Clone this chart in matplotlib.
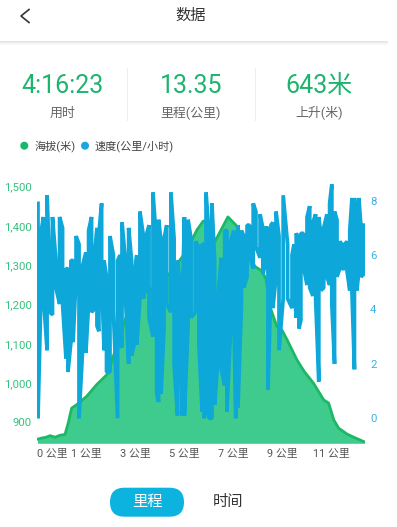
import matplotlib
matplotlib.use('Agg')
import matplotlib.pyplot as plt
from matplotlib.patches import FancyBboxPatch, Circle, Rectangle
from matplotlib.lines import Line2D

plt.rcParams['font.family'] = ['Roboto', 'Noto Sans CJK SC', 'DejaVu Sans']

# ---------------- data ----------------
title = "数据"
stat_values = ["4:16:23", "13.35", "643米"]
stat_labels = ["用时", "里程(公里)", "上升(米)"]
legend_labels = ["海拔(米)", "速度(公里/小时)"]
tabs = ["里程", "时间"]

total_km = 13.35

elev_km = [0.02, 0.20, 0.37, 0.53, 0.73, 0.94, 1.14, 1.27, 1.41, 1.62, 2.02, 2.43,
           2.84, 2.97, 3.09, 3.26, 3.58, 3.87, 4.19, 4.80, 5.41, 5.90, 6.23, 6.51,
           6.76, 6.96, 7.08, 7.24, 7.45, 7.77, 8.10, 8.26, 8.47, 8.67, 8.87, 9.16,
           9.32, 9.48, 9.77, 9.97, 10.18, 10.58, 10.87, 11.26, 11.67, 11.87, 12.08,
           12.28, 12.62, 12.89, 13.15, 13.33]
elev_m = [857, 860, 862, 866, 862, 867, 869, 898, 936, 945, 966, 996,
          1021, 1040, 1066, 1095, 1160, 1205, 1225, 1245, 1280, 1320, 1355, 1390,
          1412, 1415, 1395, 1360, 1385, 1423, 1402, 1385, 1355, 1320, 1297, 1285,
          1265, 1195, 1143, 1135, 1110, 1059, 1030, 999, 957, 949, 906,
          885, 870, 862, 855, 850]

speed_km = [0.04, 0.16, 0.26, 0.41, 0.53, 0.63, 0.77, 0.92, 1.04, 1.18,
            1.26, 1.38, 1.47, 1.59, 1.71, 1.85, 1.99, 2.10, 2.22, 2.32,
            2.44, 2.52, 2.63, 2.73, 2.83, 2.97, 3.11, 3.28, 3.38, 3.46,
            3.58, 3.73, 3.85, 3.95, 4.06, 4.19, 4.33, 4.44, 4.56, 4.72,
            4.87, 4.95, 5.05, 5.17, 5.28, 5.45, 5.58, 5.72, 5.79, 5.92,
            6.00, 6.15, 6.27, 6.45, 6.59, 6.72, 6.80, 6.88, 7.00, 7.12,
            7.23, 7.37, 7.50, 7.64, 7.73, 7.88, 8.01, 8.09, 8.18, 8.32,
            8.42, 8.55, 8.65, 8.80, 8.91, 9.08, 9.19, 9.28, 9.40, 9.52,
            9.60, 9.73, 9.85, 10.02, 10.20, 10.38, 10.46, 10.55, 10.66, 10.74,
            10.84, 10.99, 11.10, 11.23, 11.34, 11.47, 11.56, 11.67, 11.80, 11.91,
            12.00, 12.11, 12.21, 12.32, 12.41, 12.52, 12.62, 12.73, 12.82, 12.92,
            13.02, 13.10, 13.19, 13.30]
speed_hi = [7.9, 6.8, 7.4, 8.2, 5.2, 7.4, 5.8, 7.4, 7.0, 5.5,
            5.5, 5.8, 5.8, 6.7, 6.4, 5.6, 6.1, 6.9, 7.4, 5.8,
            7.0, 6.8, 7.9, 5.8, 5.2, 6.7, 6.0, 5.8, 6.0, 7.2,
            6.0, 7.0, 5.8, 5.2, 6.0, 7.6, 6.7, 6.7, 7.1, 8.3,
            6.4, 7.3, 6.5, 6.6, 7.1, 8.3, 6.6, 5.8, 5.2, 4.5,
            7.4, 7.3, 6.6, 6.5, 6.3, 6.4, 6.4, 8.3, 6.8, 7.9,
            5.8, 4.5, 5.9, 6.9, 6.9, 6.5, 6.9, 5.7, 7.1, 6.9,
            6.7, 7.1, 7.1, 7.9, 7.6, 7.5, 7.0, 7.0, 7.0, 7.1,
            7.2, 7.6, 6.7, 8.2, 6.4, 6.0, 6.4, 6.8, 6.6, 6.8,
            6.8, 7.4, 7.8, 7.2, 7.5, 7.4, 6.7, 7.0, 7.5, 7.9,
            8.6, 7.6, 7.3, 6.5, 6.4, 6.4, 6.5, 6.9, 8.1, 8.1,
            7.0, 8.1, 7.0, 7.1]
speed_lo = [0.0, 4.5, 4.5, 2.5, 3.9, 3.8, 4.8, 4.2, 4.2, 2.2,
            1.7, 2.8, 2.8, 5.2, 0.0, 2.4, 2.4, 4.2, 3.9, 4.0,
            3.4, 3.2, 5.2, 2.5, 1.7, 1.7, 3.9, 0.0, 2.7, 2.6,
            4.8, 2.0, 2.3, 2.7, 2.7, 4.4, 4.4, 4.9, 3.7, 3.0,
            0.9, 0.6, 0.9, 3.3, 4.2, 3.9, 2.0, 0.1, 3.6, 0.1,
            0.1, 3.4, 3.7, 3.9, 2.7, 0.25, 0.0, 0.25, 0.0, 0.0,
            0.5, 2.2, 1.8, 1.2, 0.25, 3.3, 3.9, 0.0, 0.4, 4.2,
            4.8, 5.2, 6.0, 5.5, 6.3, 5.9, 5.3, 5.6, 1.05, 4.8,
            4.05, 5.2, 2.5, 4.4, 4.4, 4.05, 4.9, 3.7, 3.3, 3.6,
            5.6, 4.9, 4.8, 4.5, 4.4, 1.35, 4.7, 4.8, 5.2, 4.9,
            4.2, 2.0, 5.2, 5.5, 5.5, 5.5, 5.4, 4.7, 4.6, 1.8,
            4.7, 5.4, 5.2, 5.3]

elev_ticks = [900, 1000, 1100, 1200, 1300, 1400, 1500]
speed_ticks = [0, 2, 4, 6, 8]
xtick_km = [0.64, 2.01, 4.01, 6.0, 8.0, 9.99, 12.0]
xtick_labels = ["0 公里", "1 公里", "3 公里", "5 公里", "7 公里", "9 公里", "11 公里"]

# ---------------- colours ----------------
GREEN_TXT = '#1DB46F'
FILL = '#3ECB8D'
OUTLINE = '#1CB866'
BLUE = '#0DA7DA'
LEFT_LBL = '#36C27F'
RIGHT_LBL = '#3DB0E0'

W, H = 397, 527
fig = plt.figure(figsize=(W / 100, H / 100), dpi=100)
fig.patch.set_facecolor('white')
T = fig.dpi_scale_trans


def P(x, y):
    return (x / 100, (H - y) / 100)


def txt(x, y, s, **kw):
    fig.text(*P(x, y), s, transform=T, **kw)


# header
fig.add_artist(Line2D([P(29, 9.5)[0], P(21, 16)[0], P(29, 22.5)[0]],
                      [P(29, 9.5)[1], P(21, 16)[1], P(29, 22.5)[1]],
                      transform=T, color='#333333', lw=1.2))
txt(191, 16, title, ha='center', va='center', fontsize=11, color='#333333')
for i, c in enumerate(['#e4e4e4', '#ececec', '#f3f3f3', '#f9f9f9']):
    fig.add_artist(Rectangle(P(0, 41 + i + 1), 3.88, 0.01, transform=T,
                             color=c, lw=0))

# stats
stat_x = [62.3, 191, 319]
for x, v, l in zip(stat_x, stat_values, stat_labels):
    txt(x, 86, v, ha='center', va='center', fontsize=18, color=GREEN_TXT)
    txt(x, 113, l, ha='center', va='center', fontsize=9.3, color='#666666')
for x in [127.3, 255]:
    fig.add_artist(Line2D([x / 100, x / 100], [P(0, 68)[1], P(0, 120)[1]],
                          transform=T, color='#eeeeee', lw=0.8))

# legend
fig.add_artist(Circle(P(24.3, 145.7), 0.04, transform=T, color='#17B86E', lw=0))
txt(35, 145.7, legend_labels[0], ha='left', va='center', fontsize=8, color='#444444')
fig.add_artist(Circle(P(85, 145.7), 0.04, transform=T, color='#18A8DD', lw=0))
txt(95, 145.7, legend_labels[1], ha='left', va='center', fontsize=8, color='#444444')

# chart
y_top, y_bot = 183, 443.3
ax = fig.add_axes([37 / W, (H - y_bot) / H, 328 / W, (y_bot - y_top) / H])
ax.set_xlim(0, total_km)
ax.set_ylim(846.5, 1509.4)
ax.fill_between(elev_km, elev_m, 846.5, color=FILL, lw=0, zorder=1)
ax.plot(elev_km, elev_m, color=OUTLINE, lw=2.0, zorder=2)

ax2 = ax.twinx()
ax2.set_ylim(-0.92, 8.65)
px, py = [], []
for i, (k, h, l) in enumerate(zip(speed_km, speed_hi, speed_lo)):
    pair = (h, l) if i % 2 == 0 else (l, h)
    px += [k, k]
    py += list(pair)
ax2.plot(px, py, color=BLUE, lw=2.7, solid_joinstyle='bevel', zorder=3)

ax.set_yticks(elev_ticks)
ax.set_yticklabels([f"{v:,}" for v in elev_ticks])
ax.tick_params(axis='y', length=0, pad=3.6, labelsize=8.2, labelcolor=LEFT_LBL)
ax2.set_yticks(speed_ticks)
ax2.set_yticklabels([str(v) for v in speed_ticks])
ax2.tick_params(axis='y', length=0, pad=3.6, labelsize=8.2, labelcolor=RIGHT_LBL)
ax.set_xticks(xtick_km)
ax.set_xticklabels(xtick_labels)
ax.tick_params(axis='x', length=0, pad=4.3, labelsize=7.8, labelcolor='#555555')
for a in (ax, ax2):
    for s in a.spines.values():
        s.set_visible(False)

# tabs
fig.add_artist(FancyBboxPatch(P(110, 516.7), 0.74, 0.29,
                              boxstyle="round,pad=0,rounding_size=0.145",
                              transform=T, color='#0DB3DF', lw=0))
txt(147, 502, tabs[0], ha='center', va='center', fontsize=11, color='white')
txt(228, 502, tabs[1], ha='center', va='center', fontsize=11, color='#333333')

fig.savefig('out.png', dpi=100, facecolor='white')
